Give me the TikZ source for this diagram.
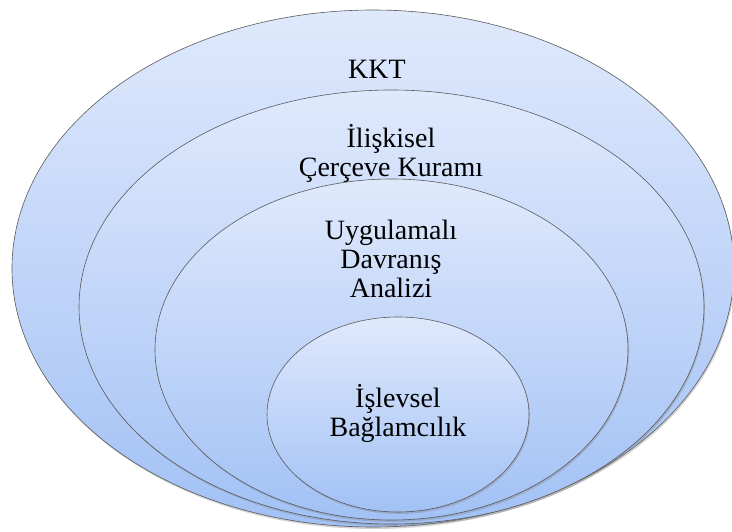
\documentclass[tikz,border=0pt]{standalone}
\usepackage{fontspec}
\setmainfont{Liberation Serif}
\usepackage{tikz}
\usetikzlibrary{shapes.geometric, shadows}
\definecolor{ringtop}{RGB}{223,233,252}
\definecolor{ringbot}{RGB}{162,193,245}
\definecolor{ringline}{RGB}{90,90,90}

\begin{document}
\begin{tikzpicture}
        [
            x=1pt, y=-1pt,
            ring/.style={ellipse, draw=ringline, line width=0.6pt, inner sep=0pt,
                top color=ringtop, bottom color=ringbot,
                drop shadow={shadow xshift=1pt, shadow yshift=-2pt, opacity=0.35}},
            lbl/.style={align=center, inner sep=0pt, font=\fontsize{28}{29}\selectfont},
        ]
    \useasboundingbox (0,0) rectangle (732,532);

    % rings, outer to inner
    \node[ring, minimum width=722pt, minimum height=517pt] (kkt) at (373,268.5){};
    \node[ring, minimum width=625pt, minimum height=434pt] (ick) at (391.5,307){};
    \node[ring, minimum width=473pt, minimum height=341pt] (uda) at (391.5,349.5){};
    \node[ring, minimum width=262pt, minimum height=195pt] (ib) at (398,414.5){};

    % labels
    \node[lbl] (kktlbl) at (377,69){KKT};
    \node[lbl] (icklbl) at (391,153){İlişkisel\\Çerçeve Kuramı};
    \node[lbl] (udalbl) at (391,259){Uygulamalı\\Davranış\\Analizi};
    \node[lbl] (iblbl) at (398,413.5){İşlevsel\\Bağlamcılık};
    \end{tikzpicture}
\end{document}
